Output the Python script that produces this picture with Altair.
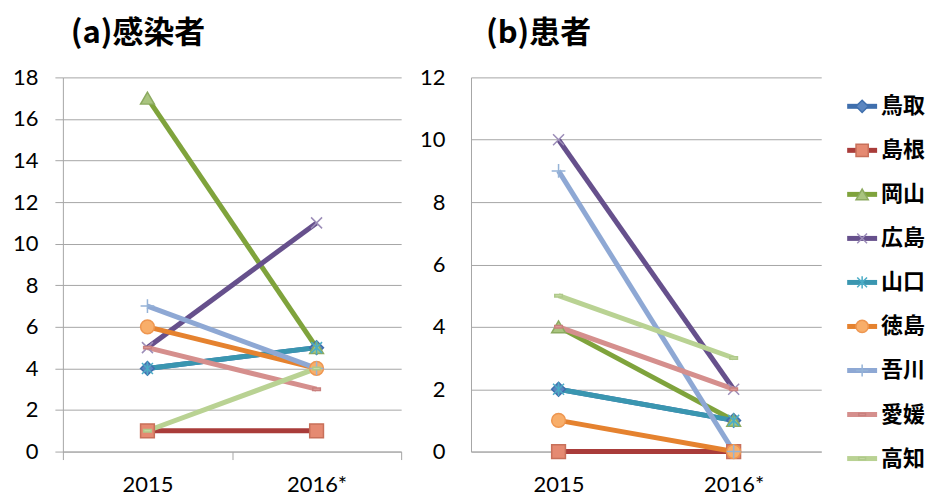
import altair as alt
import pandas as pd

prefs = ["鳥取", "島根", "岡山", "広島", "山口", "徳島", "吾川", "愛媛", "高知"]
years = ["2015", "2016*"]
infected_2015 = [4, 1, 17, 5, 4, 6, 7, 5, 1]
infected_2016 = [5, 1, 5, 11, 5, 4, 4, 3, 4]
patients_2015 = [2, 0, 4, 10, 2, 1, 9, 4, 5]
patients_2016 = [1, 0, 1, 2, 1, 0, 0, 2, 3]

line_colors = ["#3F6FAD", "#A93C3A", "#7FA33C", "#66508C", "#3A96B0",
               "#E5822F", "#8EA8D4", "#D58F8D", "#B9D293"]
marker_fills = ["#5B86C0", "#E58A72", "#A9C47F", "#8C7AA8", "#4BACC6",
                "#F8AE6A", "#95B3D7", "#E0A09E", "#C8DCA6"]
marker_strokes = ["#3F6FAD", "#C8705A", "#8CAA60", "#9C8DB8", "#4BACC6",
                  "#EE9650", "#95B3D7", "#C9807E", "#AFC98A"]
shapes = [
    "diamond",
    "square",
    "triangle-up",
    "M-0.8,-0.8L0.8,0.8M-0.8,0.8L0.8,-0.8",
    "M-0.8,-0.8L0.8,0.8M-0.8,0.8L0.8,-0.8M0,-1L0,1",
    "circle",
    "M-1,0L1,0M0,-1L0,1",
    "M-0.55,-0.18L0.55,-0.18L0.55,0.18L-0.55,0.18Z",
    "M-0.55,-0.18L0.55,-0.18L0.55,0.18L-0.55,0.18Z",
]


def long_frame(v2015, v2016):
    rows = []
    for i, p in enumerate(prefs):
        rows.append({"pref": p, "year": years[0], "value": v2015[i], "order": i})
        rows.append({"pref": p, "year": years[1], "value": v2016[i], "order": i})
    return pd.DataFrame(rows)


df_a = long_frame(infected_2015, infected_2016)
df_b = long_frame(patients_2015, patients_2016)

label_font = "Lato"
cjk_font = "Noto Sans CJK JP"
grid_color = "#A6A6A6"

color_scale = alt.Scale(domain=prefs, range=line_colors)
fill_scale = alt.Scale(domain=prefs, range=marker_fills)
stroke_scale = alt.Scale(domain=prefs, range=marker_strokes)
shape_scale = alt.Scale(domain=prefs, range=shapes)


def panel(df, ymax, title, title_dx, with_ticks, ylab_pad, width):
    x_axis = alt.Axis(
        title=None, labelAngle=0, labelFont=label_font, labelFontSize=22,
        labelColor="#000000", domainColor=grid_color, tickColor=grid_color,
        tickBand="extent", ticks=with_ticks, tickSize=8,
        labelPadding=(15 if with_ticks else 23), grid=False,
    )
    y_axis = alt.Axis(
        title=None, values=list(range(0, ymax + 1, 2)), labelFont=label_font,
        labelFontSize=22, labelColor="#000000", domainColor=grid_color,
        gridColor=grid_color, grid=True, ticks=with_ticks, tickSize=8,
        tickColor=grid_color, labelPadding=ylab_pad, minExtent=55, maxExtent=55,
    )
    x = alt.X("year:N", sort=years, scale=alt.Scale(type="band", domain=years,
              paddingInner=0, paddingOuter=0), axis=x_axis)
    y = alt.Y("value:Q", scale=alt.Scale(domain=[0, ymax], nice=False), axis=y_axis)
    lines = alt.Chart(df).mark_line(strokeWidth=5).encode(
        x=x, y=y,
        color=alt.Color("pref:N", scale=color_scale, legend=None),
        detail="pref:N",
        order=alt.Order("order:Q"),
    )
    pts = alt.Chart(df).mark_point(filled=True, size=190, strokeWidth=1.5, opacity=1).encode(
        x=x, y=y,
        shape=alt.Shape("pref:N", scale=shape_scale, legend=None),
        fill=alt.Fill("pref:N", scale=fill_scale, legend=None),
        stroke=alt.Stroke("pref:N", scale=stroke_scale, legend=None),
        order=alt.Order("order:Q"),
    )
    return alt.layer(lines, pts).properties(
        width=width, height=375,
        title=alt.TitleParams(title, anchor="start", frame="group", dx=title_dx,
                              fontSize=31, font=cjk_font, fontWeight="bold",
                              color="#000000", offset=16),
    )


chart_a = panel(df_a, 18, "(a)感染者", 8, True, 17, 339)
chart_b = panel(df_b, 12, "(b)患者", 15, False, 26, 351)

df_leg = pd.DataFrame({"pref": prefs})
leg_y = alt.Y("pref:N", sort=prefs, scale=alt.Scale(type="point", domain=prefs,
              range=[29, 382], padding=0), axis=None)
leg_rule = alt.Chart(df_leg).mark_rule(strokeWidth=5).encode(
    x=alt.value(12), x2=alt.value(42), y=leg_y,
    color=alt.Color("pref:N", scale=color_scale, legend=None),
)
leg_pts = alt.Chart(df_leg).mark_point(filled=True, size=150, strokeWidth=1.5, opacity=1).encode(
    x=alt.value(27), y=leg_y,
    shape=alt.Shape("pref:N", scale=shape_scale, legend=None),
    fill=alt.Fill("pref:N", scale=fill_scale, legend=None),
    stroke=alt.Stroke("pref:N", scale=stroke_scale, legend=None),
)
leg_text = alt.Chart(df_leg).mark_text(
    align="left", baseline="middle", font=cjk_font, fontSize=22,
    fontWeight="bold", color="#000000",
).encode(x=alt.value(46), y=leg_y, text="pref:N")
legend_panel = alt.layer(leg_rule, leg_pts, leg_text).properties(
    width=84, height=375,
    title=alt.TitleParams(" ", anchor="start", frame="group", fontSize=31,
                          font=cjk_font, fontWeight="bold", offset=16),
)

chart = alt.hconcat(chart_a, chart_b, legend_panel, spacing=14).properties(
    padding={"top": 10, "left": 0, "right": 0, "bottom": 0}
).configure_view(stroke=None)

chart.save("out.html", embed_options={"renderer": "svg", "actions": False})
